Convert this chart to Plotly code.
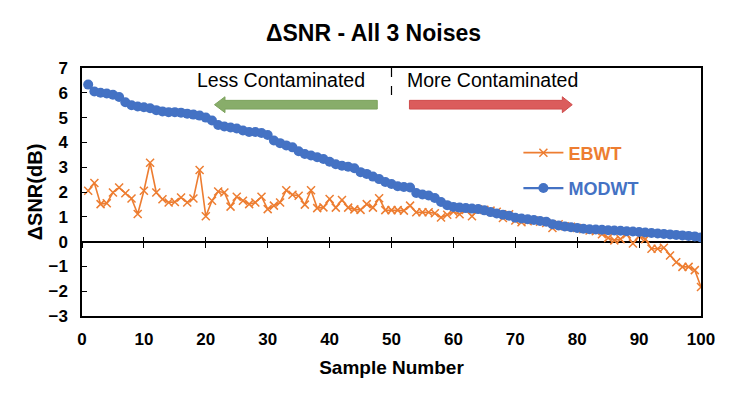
import plotly.graph_objects as go

samples = list(range(1, 101))

ebwt = [2.05, 2.36, 1.51, 1.55, 1.98, 2.18, 1.95, 1.74, 1.11, 2.05,
        3.18, 1.98, 1.71, 1.58, 1.60, 1.78, 1.58, 1.74, 2.89, 1.02,
        1.65, 2.02, 1.98, 1.41, 1.81, 1.65, 1.51, 1.58, 1.81, 1.31,
        1.45, 1.58, 2.07, 1.89, 1.85, 1.49, 2.07, 1.35, 1.38, 1.72,
        1.37, 1.68, 1.37, 1.30, 1.28, 1.51, 1.37, 1.75, 1.27, 1.27,
        1.27, 1.25, 1.45, 1.18, 1.18, 1.18, 1.14, 0.97, 1.08, 1.20,
        1.10, 1.28, 1.02, 1.30, 1.28, 1.25, 1.20, 0.95, 1.10, 0.85,
        0.78, 0.82, 0.85, 0.80, 0.75, 0.55, 0.70, 0.62, 0.60, 0.55,
        0.50, 0.45, 0.42, 0.30, 0.15, 0.05, 0.10, 0.30, -0.08, 0.22,
        0.10, -0.29, -0.29, -0.25, -0.56, -0.83, -1.02, -1.02, -1.15, -1.83]

modwt = [6.33, 6.05, 6.00, 5.97, 5.92, 5.83, 5.62, 5.50, 5.45, 5.42,
         5.38, 5.30, 5.25, 5.22, 5.22, 5.20, 5.16, 5.12, 5.08, 5.00,
         4.88, 4.70, 4.64, 4.60, 4.56, 4.48, 4.42, 4.42, 4.38, 4.30,
         4.08, 3.97, 3.88, 3.80, 3.64, 3.53, 3.47, 3.40, 3.33, 3.22,
         3.12, 3.06, 3.02, 2.96, 2.80, 2.73, 2.62, 2.52, 2.40, 2.32,
         2.23, 2.20, 2.18, 1.96, 1.90, 1.86, 1.76, 1.60, 1.47, 1.40,
         1.37, 1.35, 1.33, 1.31, 1.26, 1.19, 1.13, 1.08, 1.04, 0.96,
         0.93, 0.90, 0.87, 0.83, 0.80, 0.70, 0.65, 0.61, 0.58, 0.55,
         0.52, 0.50, 0.49, 0.48, 0.46, 0.45, 0.44, 0.42, 0.41, 0.39,
         0.37, 0.35, 0.33, 0.31, 0.29, 0.27, 0.25, 0.23, 0.21, 0.17]

x_ticks = list(range(0, 101, 10))
y_ticks = list(range(-3, 8))

ORANGE = "#ED7D31"
BLUE = "#4472C4"
FONT = "Liberation Sans, Arial, sans-serif"

# page body adds an 8px offset; size the figure to fill the rest of the window
W, H = 731, 388

fig = go.Figure()

fig.add_trace(go.Scatter(
    x=samples, y=ebwt, mode="lines+markers",
    name="<b><span style='color:%s'>EBWT</span></b>" % ORANGE,
    line=dict(color=ORANGE, width=1.6),
    marker=dict(symbol="x-thin", size=8, line=dict(color=ORANGE, width=1.5)),
    legendgroup="a",
))
fig.add_trace(go.Scatter(
    x=samples, y=modwt, mode="lines+markers",
    name="<b><span style='color:%s'>MODWT</span></b>" % BLUE,
    line=dict(color=BLUE, width=2.25),
    marker=dict(symbol="circle", size=10, color=BLUE),
    legendgroup="b",
))
# empty traces so the tick-crossing axes at y=0 are drawn
fig.add_trace(go.Scatter(x=[], y=[], xaxis="x2", showlegend=False, hoverinfo="skip"))
fig.add_trace(go.Scatter(x=[], y=[], xaxis="x3", showlegend=False, hoverinfo="skip"))

ymin, ymax = -3, 7
zero_pos = (0 - ymin) / (ymax - ymin)

axis_font = dict(family=FONT, size=17, color="black", weight="bold")

fig.update_layout(
    width=W, height=H,
    margin=dict(l=74, r=38, t=60, b=80),
    paper_bgcolor="white", plot_bgcolor="white",
    title=dict(text="<b>ΔSNR - All 3 Noises</b>", x=0.5, xanchor="center",
               y=1 - 25 / H, yanchor="middle",
               font=dict(family=FONT, size=23, color="black")),
    xaxis=dict(range=[0, 100], tickvals=x_ticks, ticks="", showgrid=False,
               zeroline=False, showline=True, linecolor="black", linewidth=1.5,
               mirror=True, tickfont=axis_font, ticklabelstandoff=7,
               title=dict(text="<b>Sample Number</b>",
                          font=dict(family=FONT, size=19, color="black"),
                          standoff=13)),
    xaxis2=dict(range=[0, 100], tickvals=x_ticks, overlaying="x", anchor="free",
                position=zero_pos, side="bottom", ticks="outside", ticklen=5,
                tickwidth=1.3, tickcolor="black", showticklabels=False,
                showgrid=False, zeroline=False, showline=False),
    xaxis3=dict(range=[0, 100], tickvals=x_ticks, overlaying="x", anchor="free",
                position=zero_pos, side="bottom", ticks="inside", ticklen=5,
                tickwidth=1.3, tickcolor="black", showticklabels=False,
                showgrid=False, zeroline=False, showline=False),
    yaxis=dict(range=[ymin, ymax], tickvals=y_ticks, ticks="inside", ticklen=5,
               tickwidth=1.3, tickcolor="black", showgrid=False,
               zeroline=True, zerolinecolor="black", zerolinewidth=1.5,
               showline=True, linecolor="black", linewidth=1.5, mirror=True,
               tickfont=axis_font, ticklabelstandoff=9,
               title=dict(text="<b>ΔSNR(dB)</b>",
                          font=dict(family=FONT, size=20, color="black"),
                          standoff=0)),
    legend=dict(x=0.705, y=0.732, xanchor="left", yanchor="top",
                bgcolor="rgba(0,0,0,0)", font=dict(family=FONT, size=18),
                traceorder="grouped", tracegroupgap=9, itemwidth=40),
    showlegend=True,
)

# dashed divider
fig.add_shape(type="line", x0=50, x1=50, y0=7, y1=5.55,
              line=dict(color="black", width=1.2, dash="dash"))

# green arrow (pointing left)
gy, bh, hh = 5.52, 0.175, 0.32
fig.add_shape(type="path",
              path=("M 21.4 {c} L 23.1 {t2} L 23.1 {t1} L 47.7 {t1} L 47.7 {b1} "
                    "L 23.1 {b1} L 23.1 {b2} Z").format(c=gy, t2=gy + hh, t1=gy + bh,
                                                       b1=gy - bh, b2=gy - hh),
              fillcolor="#88AD6A", line=dict(color="#7DA35E", width=1))
# red arrow (pointing right)
fig.add_shape(type="path",
              path=("M 79.2 {c} L 77.6 {t2} L 77.6 {t1} L 52.9 {t1} L 52.9 {b1} "
                    "L 77.6 {b1} L 77.6 {b2} Z").format(c=gy, t2=gy + hh, t1=gy + bh,
                                                       b1=gy - bh, b2=gy - hh),
              fillcolor="#DB5C5C", line=dict(color="#CF4C4C", width=1))

fig.add_annotation(x=32.1, y=6.53, text="Less Contaminated", showarrow=False,
                   xanchor="center", yanchor="middle",
                   font=dict(family=FONT, size=19.5, color="black"))
fig.add_annotation(x=66.3, y=6.53, text="More Contaminated", showarrow=False,
                   xanchor="center", yanchor="middle",
                   font=dict(family=FONT, size=19.5, color="black"))

fig.write_html("out.html")
